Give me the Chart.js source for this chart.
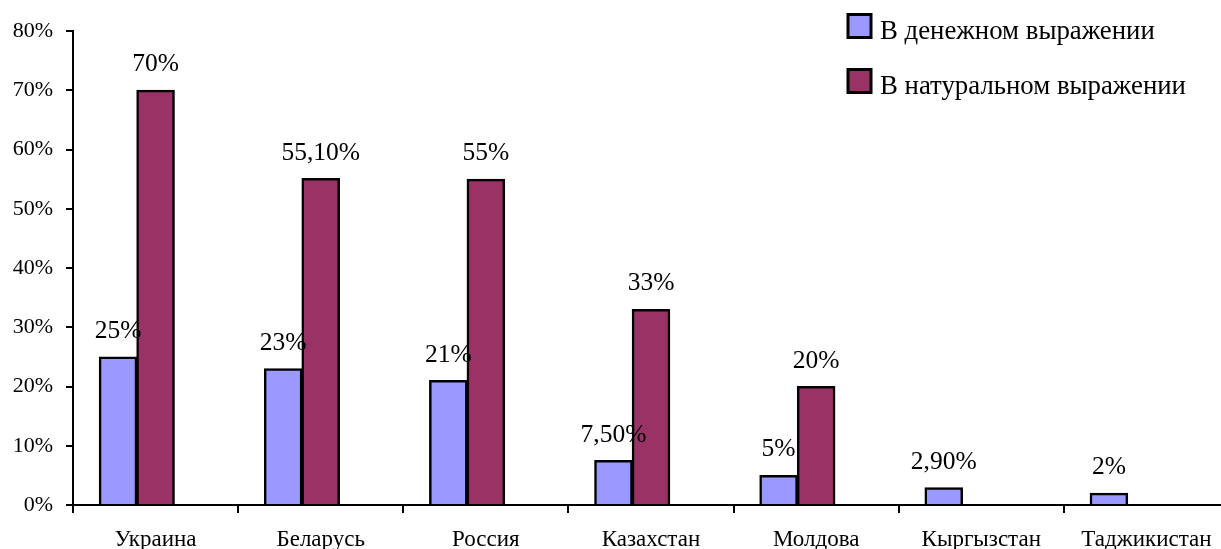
<!DOCTYPE html>
<html>
<head>
<meta charset="utf-8">
<script src="https://cdn.jsdelivr.net/npm/chart.js@4"></script>
<style>
    body { margin: 0; overflow: hidden; background: #fff; }
    #wrap { width: 1235px; height: 549px; position: relative; }
</style>
</head>
<body>
<div id="wrap"><canvas id="myChart"></canvas></div>
<script>
// Chart data
const countries = ['Украина', 'Беларусь', 'Россия', 'Казахстан', 'Молдова', 'Кыргызстан', 'Таджикистан'];
const moneyValues = [25, 23, 21, 7.5, 5, 2.9, 2];
const naturalValues = [70, 55.1, 55, 33, 20, null, null];
const seriesNames = ['В денежном выражении', 'В натуральном выражении'];
const yTicks = [0, 10, 20, 30, 40, 50, 60, 70, 80];

const FONT = '"Liberation Serif", "Times New Roman", serif';

// percent label like excel: 55,10% / 70%
function fmt(v) {
    if (Number.isInteger(v)) return v + '%';
    return v.toFixed(2).replace('.', ',') + '%';
}

// labels above bars
const valueLabels = {
    id: 'valueLabels',
    afterDatasetsDraw(chart) {
        const ctx = chart.ctx;
        ctx.save();
        ctx.font = '25.5px ' + FONT;
        ctx.fillStyle = '#000';
        ctx.textAlign = 'center';
        ctx.textBaseline = 'alphabetic';
        chart.data.datasets.forEach((ds, i) => {
            if (!ds.showLabels) return;
            chart.getDatasetMeta(i).data.forEach((el, j) => {
                const v = ds.data[j];
                if (v === null || v === undefined) return;
                ctx.fillText(fmt(v), el.x, el.y - 19);
            });
        });
        ctx.restore();
    }
};

// legend in top right corner
const boxLegend = {
    id: 'boxLegend',
    afterDraw(chart) {
        const ctx = chart.ctx;
        ctx.save();
        ctx.font = '26.8px ' + FONT;
        ctx.textBaseline = 'alphabetic';
        ctx.textAlign = 'left';
        seriesNames.forEach((name, i) => {
            const ds = chart.data.datasets[i];
            const y = 14.5 + i * 55;
            ctx.fillStyle = ds.backgroundColor;
            ctx.fillRect(848, y, 23, 23);
            ctx.lineWidth = 3;
            ctx.strokeStyle = '#000';
            ctx.strokeRect(848, y, 23, 23);
            ctx.fillStyle = '#000';
            ctx.fillText(name, 880, y + 24);
        });
        ctx.restore();
    }
};

const ctx = document.getElementById('myChart').getContext('2d');
const myChart = new Chart(ctx, {
    type: 'bar',
    data: {
        labels: countries,
        datasets: [{
            label: seriesNames[0],
            data: moneyValues,
            backgroundColor: '#9999FF',
            borderColor: '#000',
            borderWidth: 2.5,
            inflateAmount: 0.5,
            showLabels: true
        }, {
            label: seriesNames[1],
            data: naturalValues,
            backgroundColor: '#993366',
            borderColor: '#000',
            borderWidth: 2.5,
            inflateAmount: 0.5,
            showLabels: true
        }, {
            // empty third slot, keeps bars left of the category centre
            label: '',
            data: countries.map(() => null),
            backgroundColor: 'transparent',
            borderWidth: 0
        }]
    },
    options: {
        responsive: true,
        maintainAspectRatio: false,
        animation: false,
        layout: { padding: { top: 31, right: 6, left: 0, bottom: 0 } },
        datasets: {
            bar: { categoryPercentage: 0.682, barPercentage: 1 }
        },
        plugins: {
            legend: { display: false },
            tooltip: { enabled: false }
        },
        scales: {
            x: {
                offset: true,
                afterFit: (s) => { s.height = 44; },
                grid: {
                    display: true,
                    drawOnChartArea: false,
                    offset: true,
                    tickLength: 8,
                    color: '#000',
                    lineWidth: 2
                },
                border: { color: '#000', width: 2 },
                ticks: {
                    color: '#000',
                    font: { family: FONT, size: 23 },
                    padding: 13,
                    maxRotation: 0,
                    autoSkip: false
                }
            },
            y: {
                min: 0,
                max: 80,
                afterFit: (s) => { s.width = 73; },
                afterBuildTicks: (s) => { s.ticks = yTicks.map(v => ({ value: v })); },
                grid: {
                    display: true,
                    drawOnChartArea: false,
                    tickLength: 7,
                    color: '#000',
                    lineWidth: 2
                },
                border: { color: '#000', width: 2 },
                ticks: {
                    color: '#000',
                    font: { family: FONT, size: 22 },
                    padding: 13,
                    callback: (v) => v + '%'
                }
            }
        }
    },
    plugins: [valueLabels, boxLegend]
});
</script>
</body>
</html>
